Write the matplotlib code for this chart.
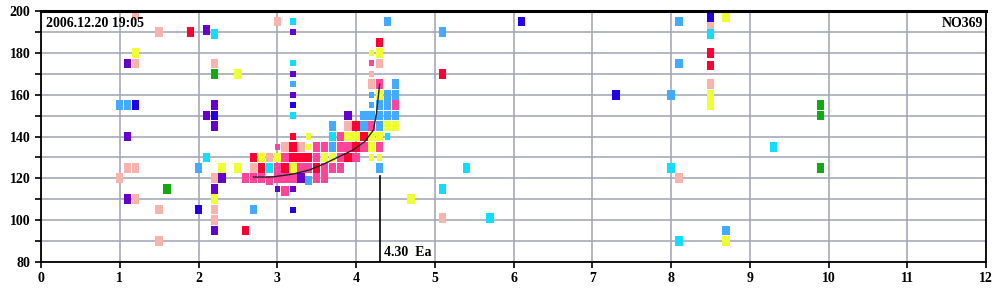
import matplotlib
matplotlib.use("Agg")
import matplotlib.pyplot as plt

# frequency (x) / amplitude (y) of each detected cell, grouped by level colour
light_pink = [(1.2, 198), (1.5, 190), (1.2, 175), (2.2, 175), (1.1, 125), (1.2, 125),
              (1.0, 120), (1.2, 110), (1.5, 105), (1.5, 90), (2.2, 120), (2.2, 105),
              (2.2, 100), (3.0, 195), (2.7, 125), (2.9, 130), (3.1, 135), (3.3, 135),
              (3.9, 145), (4.3, 175), (4.2, 165), (5.1, 101), (8.1, 120), (8.5, 193),
              (8.5, 165)]
red = [(1.9, 190), (2.6, 95), (2.7, 130), (2.8, 125), (3.1, 125), (3.2, 135), (3.2, 130),
       (3.3, 130), (3.4, 130), (3.5, 125), (3.9, 130), (4.0, 145), (4.0, 135), (4.1, 140),
       (4.3, 185), (5.1, 170), (8.5, 180), (8.5, 174)]
purple = [(2.1, 191), (1.1, 175), (2.2, 155), (2.1, 150), (2.2, 145), (1.1, 140), (1.1, 110),
          (2.3, 120), (2.2, 115), (2.2, 95), (3.3, 120), (3.9, 150)]
violet = [(1.2, 155), (2.2, 150), (2.0, 105), (6.1, 195), (7.3, 160), (8.5, 197)]
light_blue = [(1.0, 155), (1.1, 155), (2.0, 125), (2.7, 105), (4.4, 195), (5.1, 190),
              (8.1, 195), (8.1, 175), (8.0, 160), (8.7, 95), (3.7, 145), (3.7, 135),
              (4.1, 150), (4.2, 150), (4.1, 145), (4.3, 150), (4.4, 150), (4.5, 150),
              (4.3, 145), (4.3, 155), (4.4, 155), (4.4, 160), (4.5, 160), (4.5, 165),
              (4.3, 125), (3.4, 119)]
cyan = [(2.2, 189), (2.1, 130), (2.9, 125), (3.7, 140), (5.4, 125), (5.1, 115), (5.7, 101),
        (8.0, 125), (8.1, 90), (8.5, 189), (9.3, 135)]
yellow = [(1.2, 180), (2.5, 170), (2.3, 125), (2.5, 125), (2.2, 110), (2.8, 130), (3.0, 130),
          (3.2, 125), (3.6, 130), (3.7, 130), (3.9, 140), (4.0, 140), (4.2, 140), (4.3, 140),
          (4.4, 145), (4.5, 145), (4.2, 135), (4.3, 180), (4.3, 160), (4.7, 110), (8.7, 197),
          (8.5, 160), (8.5, 155), (8.7, 90)]
green = [(2.2, 170), (1.6, 115), (9.9, 155), (9.9, 150), (9.9, 125)]
hot_pink = [(2.6, 120), (2.7, 120), (2.8, 120), (2.9, 119), (3.0, 120), (3.1, 120), (3.2, 120),
            (3.0, 125), (3.1, 130), (3.3, 125), (3.4, 125), (3.5, 135), (3.5, 130), (3.5, 120),
            (3.6, 120), (3.6, 135), (3.6, 125), (3.7, 125), (3.8, 125), (3.8, 135), (3.9, 135),
            (3.8, 130), (3.8, 140), (4.0, 130), (4.1, 135), (4.2, 145), (4.3, 135), (4.3, 165),
            (4.5, 155), (3.1, 114)]

# weaker cells (drawn smaller)
small_cells = {
    "light_pink": [(4.2, 170)],
    "red": [(3.2, 140)],
    "purple": [(3.2, 190), (3.2, 170), (3.2, 160), (3.0, 115), (3.2, 115)],
    "violet": [(3.2, 155), (3.2, 105)],
    "light_blue": [(3.2, 165), (4.2, 155), (4.2, 160)],
    "cyan": [(3.2, 195), (3.2, 175), (3.2, 150), (4.4, 140)],
    "yellow": [(3.4, 140), (3.4, 135), (4.2, 180), (4.2, 130), (4.3, 130)],
    "hot_pink": [(3.0, 135), (4.2, 175)],
}

# fitted trend curve and Ea marker
trend_x = [2.7, 2.93, 3.2, 3.41, 3.6, 3.75, 3.96, 4.11, 4.22, 4.26, 4.30]
trend_y = [120.6, 120.6, 122, 124, 127, 129.7, 133.5, 137.5, 143, 151, 165]
ea_x = 4.30
ea_top = 121

colors = {
    "light_pink": "#F8B4AC", "red": "#FF0033", "purple": "#6600CC", "violet": "#2200E6",
    "light_blue": "#44AAFF", "cyan": "#11DDFF", "yellow": "#EEFF33", "green": "#11AA11",
    "hot_pink": "#FF4499",
}
groups = {
    "light_pink": light_pink, "red": red, "purple": purple, "violet": violet,
    "light_blue": light_blue, "cyan": cyan, "yellow": yellow, "green": green,
    "hot_pink": hot_pink,
}

plt.rcParams['font.family'] = ['Liberation Serif', 'DejaVu Serif']

fig = plt.figure(figsize=(10, 3), dpi=100)
ax = fig.add_axes([0.041, 0.127, 0.945, 0.836])

ax.set_xlim(0, 12)
ax.set_ylim(80, 200)
ax.set_xticks(range(0, 13))
ax.set_yticks(range(80, 201, 20))
ax.set_yticks(range(90, 200, 20), minor=True)
ax.grid(True, which='both', color='#A0A2B4', linewidth=1.1, zorder=0)
ax.set_axisbelow(True)

for key, pts in groups.items():
    xs = [p[0] for p in pts]
    ys = [p[1] for p in pts]
    ax.bar(xs, 4.6, width=0.095, bottom=[y - 2.3 for y in ys],
           color=colors[key], linewidth=0, zorder=2)

for key, pts in small_cells.items():
    xs = [p[0] for p in pts]
    ys = [p[1] for p in pts]
    ax.bar(xs, 3.0, width=0.068, bottom=[y - 1.5 for y in ys],
           color=colors[key], linewidth=0, zorder=2)

ax.plot(trend_x, trend_y, color='#222222', linewidth=1.0, zorder=3)
ax.plot([ea_x, ea_x], [80, ea_top], color='black', linewidth=1.2, zorder=3)
ax.text(ea_x + 0.06, 81.5, "4.30  Ea", fontsize=10, fontweight='bold', ha='left', va='bottom')

ax.text(0.005, 0.975, "2006.12.20 19:05", transform=ax.transAxes, fontsize=10,
        fontweight='bold', ha='left', va='top')
ax.text(0.997, 0.975, "NO369", transform=ax.transAxes, fontsize=10,
        fontweight='bold', ha='right', va='top')

for side in ['left', 'bottom', 'right']:
    ax.spines[side].set_linewidth(1.3)
ax.spines['top'].set_linewidth(2.2)
ax.tick_params(which='both', direction='out', length=4, width=1.2, colors='black')
for lab in ax.get_xticklabels() + ax.get_yticklabels():
    lab.set_fontweight('bold')
    lab.set_fontsize(10)

fig.savefig("out.png", dpi=100)
